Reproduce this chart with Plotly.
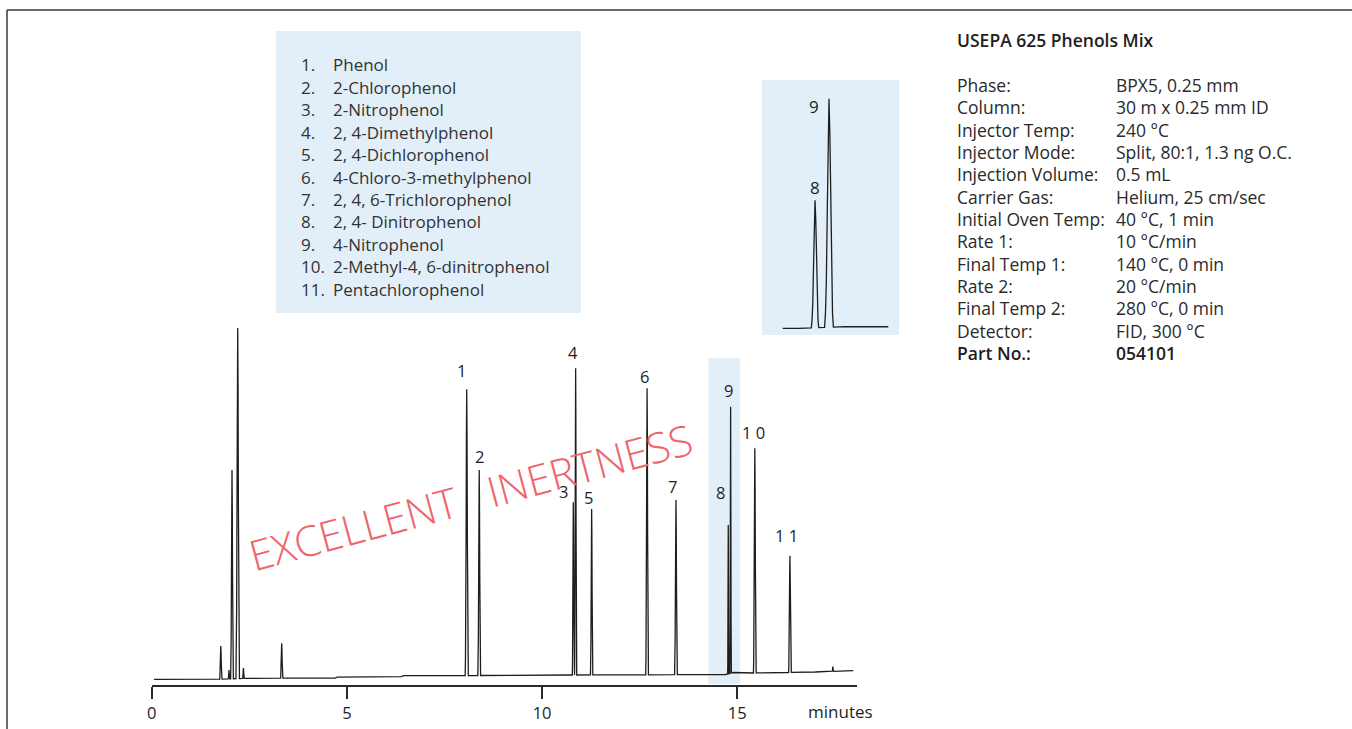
import numpy as np
import plotly.graph_objects as go

W, H = 1352, 729
FONT = "Open Sans"
TXT = "#2a2a2a"
PANEL = "#e2eff9"

# ---- compounds and labelled peaks -------------------------------------
COMPOUNDS = [
    "Phenol", "2-Chlorophenol", "2-Nitrophenol", "2, 4-Dimethylphenol",
    "2, 4-Dichlorophenol", "4-Chloro-3-methylphenol", "2, 4, 6-Trichlorophenol",
    "2, 4- Dinitrophenol", "4-Nitrophenol", "2-Methyl-4, 6-dinitrophenol",
    "Pentachlorophenol",
]
PEAK_LABELS = ["1", "2", "3", "4", "5", "6", "7", "8", "9", "1 0", "1 1"]
PEAK_TIMES = [8.07, 8.39, 10.80, 10.86, 11.27, 12.69, 13.43, 14.77, 14.83, 15.45, 16.35]
PEAK_APEX = [295.7, 215.0, 182.7, 316.7, 176.0, 296.7, 185.0, 160.0, 278.3, 236.7, 129.3]
PEAK_HALFWIDTH = [0.040, 0.035, 0.025, 0.028, 0.030, 0.035, 0.035, 0.016, 0.019, 0.035, 0.035]

# solvent front and unlabelled peaks
OTHER_TIMES = [1.77, 1.98, 2.057, 2.203, 2.35, 3.33, 17.45]
OTHER_APEX = [39.0, 15.0, 215.0, 357.0, 17.0, 41.7, 18.5]
OTHER_HALFWIDTH = [0.030, 0.020, 0.035, 0.045, 0.020, 0.030, 0.020]

# baseline drift
BASE_TIMES = [0.06, 1.65, 2.45, 4.70, 4.75, 6.40, 6.45, 8.00, 10.70, 12.60, 14.70, 14.90, 15.40, 16.30, 17.00, 17.97]
BASE_SIGNAL = [5.7, 5.7, 6.7, 6.9, 7.8, 8.3, 9.3, 9.4, 10.0, 10.2, 10.5, 12.5, 12.0, 12.5, 13.0, 14.3]

# method conditions
COND_NAMES = ["Phase:", "Column:", "Injector Temp:", "Injector Mode:", "Injection Volume:",
              "Carrier Gas:", "Initial Oven Temp:", "Rate 1:", "Final Temp 1:", "Rate 2:",
              "Final Temp 2:", "Detector:", "Part No.:"]
COND_VALUES = ["BPX5, 0.25 mm", "30 m x 0.25 mm ID", "240 °C", "Split, 80:1, 1.3 ng O.C.",
               "0.5 mL", "Helium, 25 cm/sec", "40 °C, 1 min", "10 °C/min", "140 °C, 0 min",
               "20 °C/min", "280 °C, 0 min", "FID, 300 °C", "054101"]

X_TICKS = [0, 5, 10, 15]

# peak outline: (offset in half-widths, fraction of peak height)
PEAK_PROFILE = [(-1.0, 0.0), (-0.8, 0.06), (-0.6, 0.2), (-0.4, 0.49), (-0.2, 0.84), (0.0, 1.0),
                (0.2, 0.84), (0.4, 0.49), (0.6, 0.2), (0.8, 0.06), (1.0, 0.0)]
# label offsets from apex in px (dx, up)
LABEL_OFFSETS = [(-5, 19), (0, 14), (-10, 11), (-3, 16), (-3, 12), (-3, 12), (-3, 14),
                 (-8, 33), (-2, 16), (-1, 16), (-3, 20)]


def baseline(t):
    return float(np.interp(t, BASE_TIMES, BASE_SIGNAL))


def build_trace():
    times = PEAK_TIMES + OTHER_TIMES
    apex = PEAK_APEX + OTHER_APEX
    hws = PEAK_HALFWIDTH + OTHER_HALFWIDTH
    pts = []
    for t, a, hw in zip(times, apex, hws):
        h = a - baseline(t)
        for u, f in PEAK_PROFILE:
            tt = t + u * hw
            pts.append((tt, baseline(tt) + f * h))
    for bt, bv in zip(BASE_TIMES, BASE_SIGNAL):
        if all(abs(bt - t) > hw for t, hw in zip(times, hws)):
            pts.append((bt, bv))
    pts.sort(key=lambda p: p[0])
    return [p[0] for p in pts], [p[1] for p in pts]


tx, ty = build_trace()


def px(x):
    return x / W


def py(y):
    return (H - y) / H


fig = go.Figure()
line = dict(color="#1e1e1e", width=1.3)
fig.add_trace(go.Scatter(x=tx, y=ty, mode="lines", line=line, hoverinfo="skip",
                         xaxis="x", yaxis="y"))
fig.add_trace(go.Scatter(x=tx, y=ty, mode="lines", line=line, hoverinfo="skip",
                         xaxis="x2", yaxis="y2"))

shapes = [
    # outer frame
    dict(type="line", xref="paper", yref="paper", x0=px(7), x1=1.0, y0=py(10), y1=py(10),
         line=dict(color="#3a3a3a", width=1.5)),
    dict(type="line", xref="paper", yref="paper", x0=px(7), x1=px(7), y0=py(10), y1=0.0,
         line=dict(color="#3a3a3a", width=1.5)),
    # compound list panel
    dict(type="rect", xref="paper", yref="paper", x0=px(276), x1=px(581), y0=py(313), y1=py(31),
         fillcolor=PANEL, line=dict(width=0), layer="below"),
    # inset panel
    dict(type="rect", xref="paper", yref="paper", x0=px(762), x1=px(899), y0=py(335), y1=py(80),
         fillcolor=PANEL, line=dict(width=0), layer="below"),
    # zoomed window on main trace
    dict(type="rect", xref="x", yref="paper", x0=14.256, x1=15.07, y0=py(684), y1=py(358),
         fillcolor=PANEL, line=dict(width=0), layer="below"),
]

ann = []
# compound list
for i, name in enumerate(COMPOUNDS):
    y = 65 + i * 22.4
    ann.append(dict(x=px(299), y=py(y), xref="paper", yref="paper", text=f"{i + 1}.",
                    xanchor="left", yanchor="middle", showarrow=False,
                    font=dict(family=FONT, size=17, color="#333")))
    ann.append(dict(x=px(331), y=py(y), xref="paper", yref="paper", text=name,
                    xanchor="left", yanchor="middle", showarrow=False,
                    font=dict(family=FONT, size=17, color="#333")))

# peak numbers
for lab, t, a, (dx, up) in zip(PEAK_LABELS, PEAK_TIMES, PEAK_APEX, LABEL_OFFSETS):
    ann.append(dict(x=t, y=a, xref="x", yref="y", text=lab, showarrow=False,
                    xanchor="center", yanchor="middle", xshift=dx, yshift=up,
                    font=dict(family=FONT, size=16.5, color="#1e1e1e")))

# inset peak numbers
for k, (dx, up) in zip([7, 8], [(0, 13), (-15, -8)]):
    ann.append(dict(x=PEAK_TIMES[k], y=PEAK_APEX[k], xref="x2", yref="y2", text=PEAK_LABELS[k],
                    showarrow=False, xanchor="center", yanchor="middle", xshift=dx, yshift=up,
                    font=dict(family=FONT, size=17, color="#1e1e1e")))

# axis title
ann.append(dict(x=px(840.5), y=py(711), xref="paper", yref="paper", text="minutes",
                showarrow=False, xanchor="center", yanchor="middle",
                font=dict(family=FONT, size=17, color="#1e1e1e")))

# method panel
ann.append(dict(x=px(955), y=py(40), xref="paper", yref="paper", text="USEPA 625 Phenols Mix",
                showarrow=False, xanchor="left", yanchor="middle",
                font=dict(family=FONT, size=17.5, color="#1e1e1e", weight=600)))
for i, (n, v) in enumerate(zip(COND_NAMES, COND_VALUES)):
    y = 85 + i * 22.33
    wt = 600 if n == "Part No.:" else 400
    col = "#1e1e1e" if n == "Part No.:" else TXT
    ann.append(dict(x=px(955), y=py(y), xref="paper", yref="paper", text=n, showarrow=False,
                    xanchor="left", yanchor="middle",
                    font=dict(family=FONT, size=17.5, color=col, weight=wt)))
    ann.append(dict(x=px(1114), y=py(y), xref="paper", yref="paper", text=v, showarrow=False,
                    xanchor="left", yanchor="middle",
                    font=dict(family=FONT, size=17.5, color=col, weight=wt)))

# stamp
ann.append(dict(x=px(470), y=py(496), xref="paper", yref="paper",
                text="EXCELLENT\u00a0\u00a0\u00a0INERTNESS", showarrow=False, textangle=-15,
                xanchor="center", yanchor="middle",
                font=dict(family=FONT, size=42, color="#f0646c", weight=350)))

fig.update_layout(
    width=W, height=H, margin=dict(l=0, r=0, t=0, b=0, pad=0, autoexpand=False),
    paper_bgcolor="white", plot_bgcolor="rgba(0,0,0,0)", showlegend=False,
    shapes=shapes, annotations=ann,
    xaxis=dict(domain=[px(151.7), px(856.7)], range=[0, 18.06], tickvals=X_TICKS,
               ticks="outside", ticklen=12, tickwidth=1.5, tickcolor="#2a2a2a",
               showline=True, linecolor="#2a2a2a", linewidth=1.5, showgrid=False,
               zeroline=False, tickfont=dict(family=FONT, size=16.5, color="#1e1e1e"),
               anchor="y", fixedrange=True, automargin=False),
    yaxis=dict(domain=[py(685), py(320)], range=[0, 365], visible=False, fixedrange=True,
               automargin=False),
    xaxis2=dict(domain=[px(782.7), px(888.3)], range=[14.631, 15.085], visible=False,
                anchor="y2", fixedrange=True),
    yaxis2=dict(domain=[py(335), py(80)], range=[2.7, 300.2], visible=False,
                anchor="x2", fixedrange=True),
)

fig.write_html("out.html")
